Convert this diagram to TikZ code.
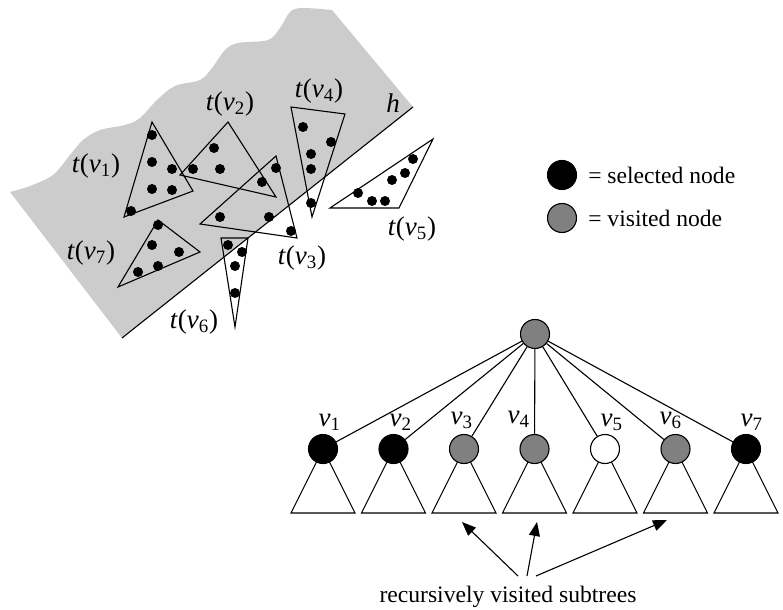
\documentclass[tikz,border=0pt]{standalone}
\usepackage{fontspec}
\setmainfont{Liberation Serif}
\usetikzlibrary{calc,arrows.meta,positioning}
\definecolor{halfplane}{HTML}{CCCCCC}
\definecolor{visited}{HTML}{808080}
\newcommand{\tlab}[1]{\textit{t}(\textit{v}\textsubscript{#1})}
\newcommand{\vlab}[1]{\textit{v}\textsubscript{#1}}
\tikzset{
  treenode/.style={circle, draw, minimum size=14.5pt, inner sep=0pt},
  keynode/.style={circle, draw, minimum size=14.5pt, inner sep=0pt},
  tname/.style={inner sep=0pt, font=\rmfamily\fontsize{13.5}{15}\selectfont},
  vname/.style={anchor=base west, inner sep=0pt, font=\rmfamily\fontsize{13.5}{15}\selectfont},
}

\begin{document}
\begin{tikzpicture}[x=0.5pt, y=-0.5pt, line width=0.55pt, >={Triangle[length=7pt,width=5.5pt]},
    font=\rmfamily\fontsize{11.8}{14}\selectfont]
  \useasboundingbox (0,0) rectangle (783,610);

  % ---------- half-plane h, wavy on the far side
  \fill[halfplane] plot[smooth, tension=0.55] coordinates {(10,192) (30,186) (53,175) (70,155)
      (83,140) (100,130) (125,125) (140,118) (157,100) (175,86) (200,80) (212,68) (225,50)
      (238,43) (268,40) (280,28) (290,12) (302,8) (332,10)}
    -- (413,107) -- (122,338) -- cycle;
  \coordinate (Htop) at (413,107);
  \coordinate (Hbot) at (122,338);
  \draw (Htop) -- (Hbot);
  \node[tname] (hname) at (393,103) {\textit{h}};

  % ---------- triangles t(v_i) with their points
  \draw (152,122) -- (193,191) -- (124,217) -- cycle;
  \draw (228,122) -- (276,197) -- (180,175) -- cycle;
  \draw (276,156) -- (297,238) -- (200,224) -- cycle;
  \draw (291,107) -- (345,114) -- (312,217) -- cycle;
  \draw (433,139) -- (399,208) -- (330,208) -- cycle;
  \draw (221,238) -- (248,238) -- (235,327) -- cycle;
  \draw (158,220) -- (200,252) -- (118,287) -- cycle;
  \foreach \x/\y in {152/135,152/162,172/169,152/189,172/190,131/211,% v1
      214/148,193/169,220/169,% v2
      276/168,262/182,220/217,269/217,291/231,% v3
      303/127,331/142,311/154,311/169,311/203,% v4
      413/159,405/173,392/180,358/193,372/201,385/201,% v5
      228/245,242/252,235/266,235/293,% v6
      158/225,152/245,179/252,158/266,138/272}% v7
    \fill (\x,\y) ellipse[x radius=5, y radius=-5];

  \node[tname] (T1) at (96,166) {\tlab{1}};
  \node[tname] (T2) at (230,104) {\tlab{2}};
  \node[tname] (T3) at (302,258) {\tlab{3}};
  \node[tname] (T4) at (319,91) {\tlab{4}};
  \node[tname] (T5) at (412,229) {\tlab{5}};
  \node[tname] (T6) at (194,322) {\tlab{6}};
  \node[tname] (T7) at (91,253) {\tlab{7}};

  % ---------- legend
  \node[keynode, fill=black] (SelKey) at (562,175) {};
  \node[keynode, fill=visited] (VisKey) at (562,218) {};
  \node[right=2pt of SelKey] (SelText) {= selected node};
  \node[right=2pt of VisKey] (VisText) {= visited node};

  % ---------- tree: root, children and their subtrees
  \node[treenode, fill=visited] (Root) at (535,334) {};
  \foreach \i/\col [evaluate=\i as \cx using 323+70.5*(\i-1)] in
      {1/black,2/black,3/visited,4/visited,5/white,6/visited,7/black} {
    \draw (\cx,449) -- (\cx-32,513) -- (\cx+32,513) -- cycle;
    \node[treenode, fill=\col] (V\i) at (\cx,449) {};
    \draw (Root) -- (V\i);
  }
  \node[vname] (N1) at (318,426) {\vlab{1}};
  \node[vname] (N2) at (389,426) {\vlab{2}};
  \node[vname] (N3) at (450,424) {\vlab{3}};
  \node[vname] (N4) at (507,423) {\vlab{4}};
  \node[vname] (N5) at (600,426) {\vlab{5}};
  \node[vname] (N6) at (659,424) {\vlab{6}};
  \node[vname] (N7) at (740,426) {\vlab{7}};

  % ---------- caption with arrows to the visited subtrees
  \node (Caption) at (508,597) {recursively visited subtrees};
  \coordinate (From3) at (518,576);
  \coordinate (From4) at (527,576);
  \coordinate (From6) at (536,576);
  \coordinate (Tip3) at (462,522);
  \coordinate (Tip4) at (537,522);
  \coordinate (Tip6) at (667,520);
  \draw[->] (From3) -- (Tip3);
  \draw[->] (From4) -- (Tip4);
  \draw[->] (From6) -- (Tip6);
\end{tikzpicture}
\end{document}
